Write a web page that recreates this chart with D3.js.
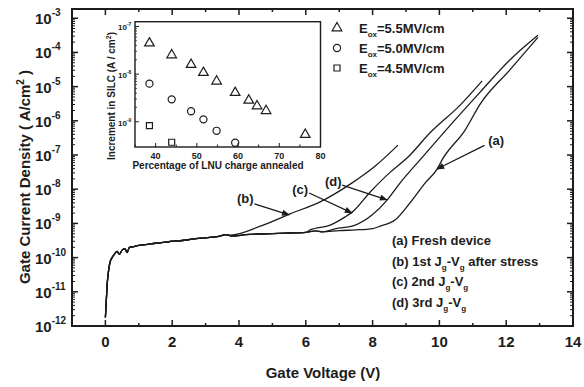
<!DOCTYPE html>
<html>
<head>
<meta charset="utf-8">
<script src="https://cdn.jsdelivr.net/npm/d3@7/dist/d3.min.js"></script>
<style>
  html, body { margin: 0; padding: 0; background: #fff; }
  svg { display: block; font-family: Arial, "Liberation Sans", Helvetica, sans-serif; font-weight: bold; }
</style>
</head>
<body>
<svg id="chart" width="584" height="387"></svg>
<script>
/* ── Data (log10 of current density, A/cm²) ──────────────────────────────── */

const VOLT_TICKS = [0, 2, 4, 6, 8, 10, 12, 14];
const VOLT_MINOR = [-1, 1, 3, 5, 7, 9, 11, 13];
const J_DECADES = [-12, -11, -10, -9, -8, -7, -6, -5, -4, -3];

// shared low-field part of all four Jg-Vg sweeps
const baseline = [
  [0.0, -11.75], [0.03, -11.2], [0.06, -10.7], [0.1, -10.35], [0.15, -10.1],
  [0.2, -10.0], [0.27, -9.9], [0.35, -9.82], [0.42, -9.9], [0.5, -9.78],
  [0.58, -9.74], [0.65, -9.85], [0.72, -9.7], [0.85, -9.68], [1.0, -9.64],
  [1.2, -9.62], [1.5, -9.58], [1.8, -9.55], [2.0, -9.52], [2.3, -9.5],
  [2.6, -9.46], [3.0, -9.42], [3.4, -9.38], [3.6, -9.33], [3.8, -9.37],
  [4.2, -9.33], [4.6, -9.31], [5.0, -9.3], [5.5, -9.28], [6.0, -9.26],
  [6.3, -9.22], [6.5, -9.25], [7.0, -9.21], [7.5, -9.19], [8.0, -9.15],
];

// (a) fresh device
const riseA = [
  [8.23, -9.08], [8.67, -8.9], [9.12, -8.4], [9.57, -7.82], [9.93, -7.41],
  [10.08, -7.14], [10.77, -6.27], [11.22, -5.51], [12.11, -4.51], [12.95, -3.56],
];
// (b) 1st Jg-Vg after stress
const riseB = [
  [3.74, -9.34], [4.64, -9.08], [5.53, -8.72], [6.43, -8.37], [7.33, -7.85],
  [8.08, -7.32], [8.76, -6.71],
];
// (c) 2nd Jg-Vg
const riseC = [
  [6.13, -9.19], [6.73, -9.05], [7.18, -8.81], [7.39, -8.67], [7.93, -8.08],
  [8.53, -7.5], [9.03, -7.09], [9.72, -6.35], [10.62, -5.54], [11.28, -4.83],
];
// (d) 3rd Jg-Vg
const riseD = [
  [6.88, -9.16], [7.48, -9.05], [7.99, -8.75], [8.44, -8.31], [8.82, -7.82],
  [9.42, -7.14], [10.17, -6.3], [11.22, -5.16], [12.11, -4.22], [12.95, -3.5],
];

const CURVES = [riseA, riseB, riseC, riseD];

// arrow call-outs: label position, arrow tail, arrow tip (V, log J)
const CALLOUTS = [
  { text: "(a)", at: [11.7, -6.56], from: [11.35, -6.72], to: [9.93, -7.41] },
  { text: "(b)", at: [4.19, -8.26], from: [4.46, -8.43], to: [5.5, -8.75] },
  { text: "(c)", at: [5.83, -7.99], from: [6.1, -8.11], to: [7.38, -8.69] },
  { text: "(d)", at: [6.82, -7.76], from: [7.09, -7.88], to: [8.43, -8.31] },
];

const CURVE_NAMES = [
  ["(a) Fresh device"],
  ["(b) 1st J", "g", "-V", "g", " after stress"],
  ["(c) 2nd J", "g", "-V", "g"],
  ["(d) 3rd J", "g", "-V", "g"],
];

// inset: SILC increment vs percentage of LNU charge annealed
const INSET_X_TICKS = [40, 50, 60, 70, 80];
const INSET_DECADES = [-9, -8, -7];
const pct55 = [38.5, 43.9, 48.6, 51.6, 54.8, 59.3, 62.6, 64.6, 66.8, 76.3];
const silc55 = [-7.35, -7.6, -7.8, -7.97, -8.15, -8.39, -8.55, -8.67, -8.77, -9.27];
const pct50 = [38.5, 43.9, 48.6, 51.6, 54.8, 59.3];
const silc50 = [-8.2, -8.53, -8.78, -8.95, -9.19, -9.44];
const pct45 = [38.5, 43.9];
const silc45 = [-9.08, -9.43];

const FIELDS = ["5.5", "5.0", "4.5"];

/* ── Setup ────────────────────────────────────────────────────────────────── */

const INK = "#1c1c1c";
const svg = d3.select("#chart");
svg.append("rect").attr("width", 584).attr("height", 387).attr("fill", "#fff");

const x = d3.scaleLinear().domain([-1, 14]).range([72, 573]);
const y = d3.scaleLinear().domain([-12, -2.73]).range([326, 9]);

/* ── Frame & ticks ────────────────────────────────────────────────────────── */

const frame = svg.append("g").attr("stroke", INK).attr("fill", "none");

frame.append("rect")
  .attr("x", x(-1)).attr("y", y(-2.73))
  .attr("width", x(14) - x(-1)).attr("height", y(-12) - y(-2.73))
  .attr("stroke-width", 2);

function vTick(v, len) {
  frame.append("line").attr("x1", x(v)).attr("x2", x(v))
    .attr("y1", y(-12)).attr("y2", y(-12) - len).attr("stroke-width", 1.5);
  frame.append("line").attr("x1", x(v)).attr("x2", x(v))
    .attr("y1", y(-2.73)).attr("y2", y(-2.73) + len).attr("stroke-width", 1.5);
}
VOLT_TICKS.forEach((v) => vTick(v, 6));
VOLT_MINOR.forEach((v) => vTick(v, 3));

function jTick(l, len, w) {
  frame.append("line").attr("x1", x(-1)).attr("x2", x(-1) + len)
    .attr("y1", y(l)).attr("y2", y(l)).attr("stroke-width", w);
  frame.append("line").attr("x1", x(14)).attr("x2", x(14) - len)
    .attr("y1", y(l)).attr("y2", y(l)).attr("stroke-width", w);
}
J_DECADES.forEach((d) => {
  jTick(d, 6, 1.5);
  d3.range(2, 10).forEach((k) => {
    const l = d + Math.log10(k);
    if (l < -2.73) jTick(l, 3, 1);
  });
});

/* ── Tick labels & axis titles ────────────────────────────────────────────── */

svg.append("g").selectAll("text").data(VOLT_TICKS).join("text")
  .attr("x", (v) => x(v)).attr("y", 347)
  .attr("text-anchor", "middle").attr("font-size", 15).attr("fill", INK)
  .text((v) => v);

const yl = svg.append("g").selectAll("text").data(J_DECADES).join("text")
  .attr("x", 35).attr("y", (d) => y(d) + 6)
  .attr("font-size", 15).attr("fill", INK);
yl.append("tspan").text("10");
yl.append("tspan").attr("dy", -8).attr("font-size", 10).text((d) => d);

svg.append("text")
  .attr("x", 323).attr("y", 378).attr("text-anchor", "middle")
  .attr("font-size", 15).attr("fill", INK)
  .text("Gate Voltage (V)");

const ytitle = svg.append("text")
  .attr("transform", "translate(30,177) rotate(-90)")
  .attr("text-anchor", "middle").attr("font-size", 15).attr("fill", INK);
ytitle.append("tspan").text("Gate Current Density ( A/cm");
ytitle.append("tspan").attr("dy", -6).attr("font-size", 10).text("2");
ytitle.append("tspan").attr("dy", 6).text(" )");

/* ── Curves ───────────────────────────────────────────────────────────────── */

const line = d3.line().x((d) => x(d[0])).y((d) => y(d[1])).curve(d3.curveMonotoneX);

CURVES.forEach((rise) => {
  const pts = baseline.filter((p) => p[0] < rise[0][0]).concat(rise);
  svg.append("path").attr("d", line(pts))
    .attr("fill", "none").attr("stroke", INK).attr("stroke-width", 1.3)
    .attr("stroke-linejoin", "round");
});

/* ── Call-outs ────────────────────────────────────────────────────────────── */

svg.append("defs").append("marker")
  .attr("id", "head").attr("viewBox", "0 0 10 10")
  .attr("refX", 9).attr("refY", 5)
  .attr("markerWidth", 7).attr("markerHeight", 6)
  .attr("orient", "auto")
  .append("path").attr("d", "M0,1 L10,5 L0,9 Z").attr("fill", INK);

CALLOUTS.forEach((c) => {
  svg.append("line")
    .attr("x1", x(c.from[0])).attr("y1", y(c.from[1]))
    .attr("x2", x(c.to[0])).attr("y2", y(c.to[1]))
    .attr("stroke", INK).attr("stroke-width", 1.3)
    .attr("marker-end", "url(#head)");
  svg.append("text")
    .attr("x", x(c.at[0])).attr("y", y(c.at[1]) + 5)
    .attr("text-anchor", "middle").attr("font-size", 13).attr("fill", INK)
    .text(c.text);
});

/* ── Curve legend (lower right) ───────────────────────────────────────────── */

CURVE_NAMES.forEach((parts, i) => {
  const t = svg.append("text")
    .attr("x", 392).attr("y", 245 + i * 20.5)
    .attr("font-size", 13).attr("fill", INK);
  parts.forEach((p, j) => {
    const sub = j % 2 === 1;
    t.append("tspan")
      .attr("dy", sub ? 4 : j === 0 ? 0 : -4)
      .attr("font-size", sub ? 8 : 13)
      .text(p);
  });
});

/* ── Inset ────────────────────────────────────────────────────────────────── */

const ix = d3.scaleLinear().domain([35, 80]).range([135, 320.5]);
const iy = d3.scaleLinear().domain([-9.53, -6.9]).range([147, 21.7]);
const inset = svg.append("g");

inset.append("rect")
  .attr("x", ix(35)).attr("y", iy(-6.9))
  .attr("width", ix(80) - ix(35)).attr("height", iy(-9.53) - iy(-6.9))
  .attr("fill", "#fff").attr("stroke", INK).attr("stroke-width", 1.4);

d3.range(35, 81, 5).forEach((v) => {
  const len = v % 10 === 0 ? 4 : 2.5;
  inset.append("line").attr("x1", ix(v)).attr("x2", ix(v))
    .attr("y1", iy(-9.53)).attr("y2", iy(-9.53) - len)
    .attr("stroke", INK).attr("stroke-width", 1);
});
INSET_DECADES.forEach((d) => {
  inset.append("line").attr("x1", ix(35)).attr("x2", ix(35) + 4)
    .attr("y1", iy(d)).attr("y2", iy(d)).attr("stroke", INK).attr("stroke-width", 1);
  d3.range(2, 10).forEach((k) => {
    const l = d + Math.log10(k);
    if (l > -6.9) return;
    inset.append("line").attr("x1", ix(35)).attr("x2", ix(35) + 2)
      .attr("y1", iy(l)).attr("y2", iy(l)).attr("stroke", INK).attr("stroke-width", 0.8);
  });
});

inset.selectAll("text.xt").data(INSET_X_TICKS).join("text")
  .attr("class", "xt")
  .attr("x", (v) => ix(v)).attr("y", 158.5)
  .attr("text-anchor", "middle").attr("font-size", 9).attr("fill", INK)
  .text((v) => v);

const iyl = inset.selectAll("text.yt").data(INSET_DECADES).join("text")
  .attr("class", "yt")
  .attr("x", 118).attr("y", (d) => iy(d) + 4)
  .attr("font-size", 8).attr("fill", INK);
iyl.append("tspan").text("10");
iyl.append("tspan").attr("dy", -4).attr("font-size", 5).text((d) => d);

inset.append("text")
  .attr("x", 218).attr("y", 169).attr("text-anchor", "middle")
  .attr("font-size", 10).attr("fill", INK)
  .text("Percentage of LNU charge annealed");

const ititle = inset.append("text")
  .attr("transform", "translate(115,96) rotate(-90)")
  .attr("text-anchor", "middle").attr("font-size", 10).attr("fill", INK);
ititle.append("tspan").text("Increment in SILC (A / cm");
ititle.append("tspan").attr("dy", -4).attr("font-size", 7).text("2");
ititle.append("tspan").attr("dy", 4).text(")");

const sym = {
  tri: d3.symbol().type(d3.symbolTriangle).size(40),
  cir: d3.symbol().type(d3.symbolCircle).size(40),
  sq: d3.symbol().type(d3.symbolSquare).size(36),
};

function drawSeries(xs, ys, shape) {
  inset.append("g").selectAll("path").data(xs).join("path")
    .attr("transform", (v, i) => `translate(${ix(v)},${iy(ys[i])})`)
    .attr("d", sym[shape]())
    .attr("fill", "none").attr("stroke", INK).attr("stroke-width", 1.2);
}
drawSeries(pct55, silc55, "tri");
drawSeries(pct50, silc50, "cir");
drawSeries(pct45, silc45, "sq");

/* ── Field legend (upper right) ───────────────────────────────────────────── */

["tri", "cir", "sq"].forEach((shape, i) => {
  svg.append("path")
    .attr("transform", `translate(337,${28 + i * 20})`)
    .attr("d", sym[shape]())
    .attr("fill", "none").attr("stroke", INK).attr("stroke-width", 1.2);
  const t = svg.append("text")
    .attr("x", 359).attr("y", 33 + i * 20)
    .attr("font-size", 13).attr("fill", INK);
  t.append("tspan").text("E");
  t.append("tspan").attr("dy", 4).attr("font-size", 8).text("ox");
  t.append("tspan").attr("dy", -4).text(`=${FIELDS[i]}MV/cm`);
});
</script>
</body>
</html>
